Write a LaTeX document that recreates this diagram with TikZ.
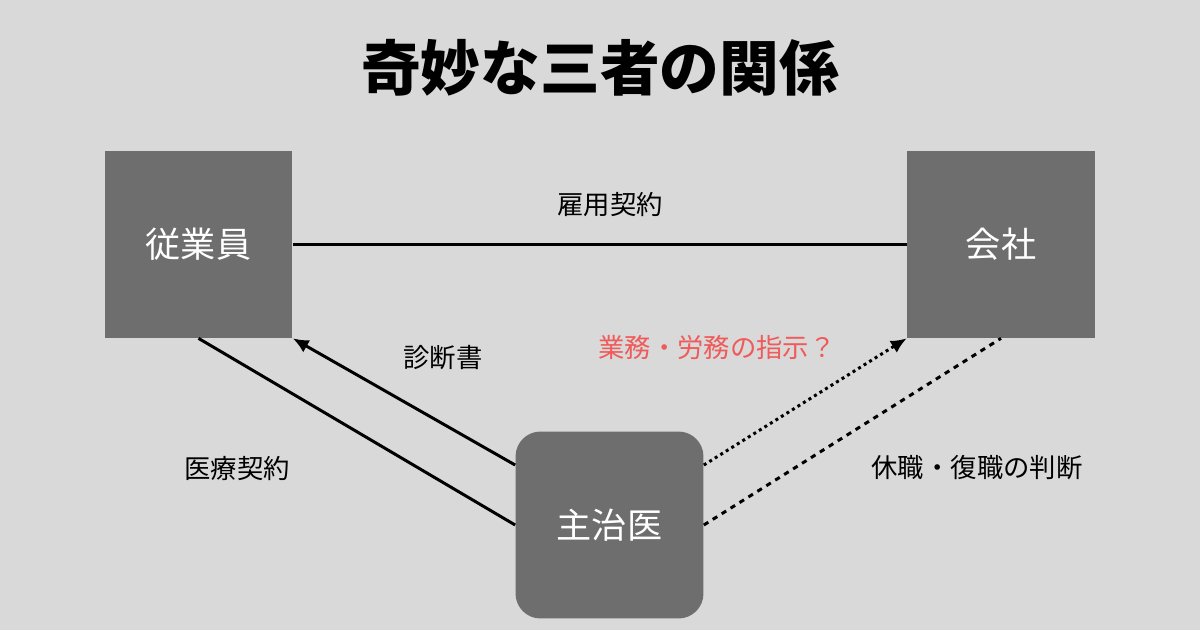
\documentclass[tikz,border=0pt]{standalone}
\usepackage{fontspec}
\setmainfont{Noto Sans CJK JP}
\usetikzlibrary{arrows.meta}
\definecolor{bg}{HTML}{D9D9D9}
\definecolor{boxgray}{HTML}{6E6E6E}
\definecolor{warnred}{HTML}{F05A5A}
\tikzset{
  party/.style={fill=boxgray,minimum width=3.76cm,minimum height=3.74cm,inner sep=0pt,
    text=white,font=\fontsize{20}{24}\selectfont},
  tag/.style={font=\fontsize{15}{18}\selectfont},
  link/.style={line width=1.7pt},
  tip/.style={-{Latex[length=9pt,width=8pt]}}
}
\begin{document}
\begin{tikzpicture}[x=0.02cm,y=-0.02cm]
\fill[bg] (0,0) rectangle (1200,630);
\node[font=\fontsize{34}{40}\selectfont\bfseries] (title) at (600,68) {奇妙な三者の関係};
\node[party] (emp) at (198.5,244.5) {従業員};
\node[party] (co) at (1001,244.5) {会社};
\node[party,rounded corners=0.5cm] (doc) at (609.5,525) {主治医};
\draw[link] (emp.east) -- (co.west);
\node[tag] (l1) at (610,205) {雇用契約};
% doctor side
\draw[link] (emp.south) -- (doc.west);
\node[tag] (l2) at (237,468) {医療契約};
\draw[link,tip] ([yshift=1.2cm]doc.west) -- (emp.south east);
\node[tag] (l3) at (443,358) {診断書};
\draw[link,tip,dotted] ([yshift=1.2cm]doc.east) -- (co.south west);
\node[tag,text=warnred] (l4) at (717,347) {業務・労務の指示？};
\draw[link,dashed] (doc.east) -- (co.south);
\node[tag] (l5) at (977,468) {休職・復職の判断};
\end{tikzpicture}
\end{document}
